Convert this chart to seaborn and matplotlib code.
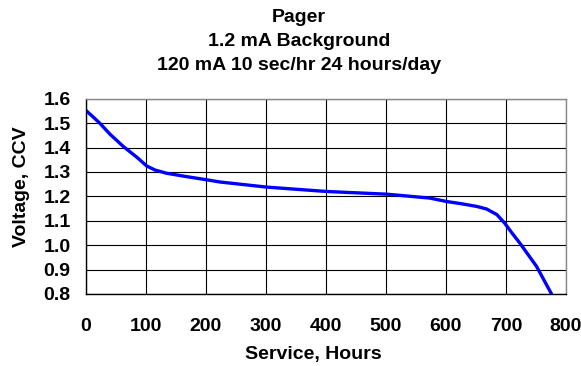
import pandas as pd
import matplotlib.pyplot as plt
import seaborn as sns

hours = [0, 10, 23, 40, 62, 85, 101, 115, 134, 165, 201, 223, 301, 401, 501, 573, 601, 625,
         651, 668, 685, 698, 710, 723, 751, 776]
volts = [1.552, 1.53, 1.50, 1.455, 1.405, 1.36, 1.325, 1.308, 1.295, 1.282, 1.268, 1.259,
         1.238, 1.220, 1.209, 1.193, 1.179, 1.170, 1.159, 1.148, 1.125, 1.09, 1.05, 1.009,
         0.913, 0.80]
x_ticks = [0, 100, 200, 300, 400, 500, 600, 700, 800]
y_ticks = [0.8, 0.9, 1.0, 1.1, 1.2, 1.3, 1.4, 1.5, 1.6]
title_lines = ["Pager", "1.2 mA Background", "120 mA 10 sec/hr 24 hours/day"]

sns.set_theme(style="white")
plt.rcParams["font.family"] = ["Liberation Sans", "DejaVu Sans"]
plt.rcParams["font.weight"] = "bold"
plt.rcParams["text.color"] = "black"
plt.rcParams["xtick.color"] = "black"
plt.rcParams["ytick.color"] = "black"

df = pd.DataFrame({"hours": hours, "volts": volts})

fig = plt.figure(figsize=(5.81, 3.66), dpi=100)
ax = fig.add_axes([0.148, 0.197, 0.826, 0.533])

sns.lineplot(data=df, x="hours", y="volts", color="#0000ff", linewidth=2.4, ax=ax)

ax.set_xlim(0, 800)
ax.set_ylim(0.8, 1.6)
ax.set_xticks(x_ticks)
ax.set_yticks(y_ticks)
ax.set_xticklabels([str(t) for t in x_ticks], fontsize=14, fontweight="bold", color="black")
ax.set_yticklabels([f"{t:.1f}" for t in y_ticks], fontsize=14, fontweight="bold", color="black")
ax.tick_params(axis="x", length=0, pad=17)
ax.tick_params(axis="y", length=0, pad=11)
ax.grid(True, color="black", linewidth=0.8)
ax.set_axisbelow(True)
ax.set_xlabel("")
ax.set_ylabel("")
for side in ["left", "bottom"]:
    ax.spines[side].set_color("black")
for side in ["top", "right"]:
    ax.spines[side].set_color("#888888")
for s in ax.spines.values():
    s.set_linewidth(1.0)

for i, line in enumerate(title_lines):
    fig.text(299 / 581, 1 - (17 + 24.5 * i) / 366, line, ha="center", va="center",
             fontsize=14, fontweight="bold", color="black")
fig.text(313 / 581, 1 - 355 / 366, "Service, Hours", ha="center", va="center",
         fontsize=14, fontweight="bold", color="black")
fig.text(22 / 581, 1 - 187 / 366, "Voltage, CCV", ha="center", va="center",
         rotation=90, fontsize=14, fontweight="bold", color="black")

fig.savefig("out.png", dpi=100)
